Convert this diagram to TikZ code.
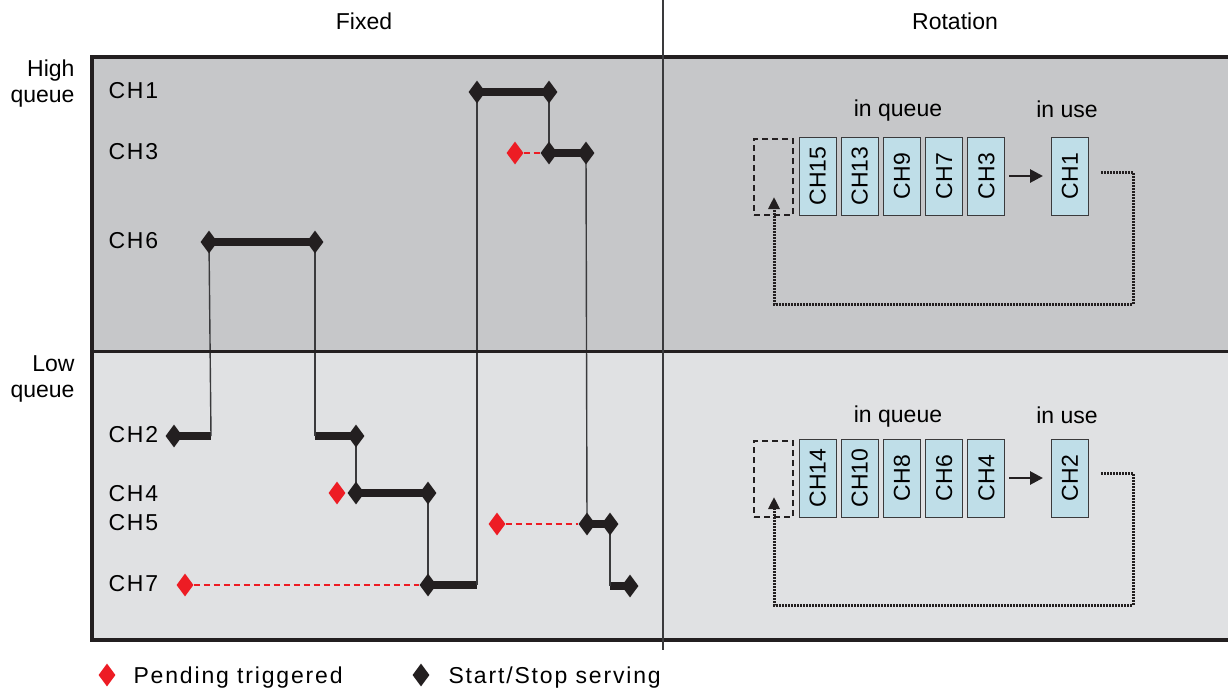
\documentclass[tikz,border=0pt]{standalone}
\usepackage{fontspec}
\setmainfont{Liberation Sans}
\newfontfamily\trackfont[LetterSpace=8]{Liberation Sans}
\usetikzlibrary{arrows.meta,positioning,shapes.geometric,backgrounds}
\definecolor{hiqgray}{HTML}{C6C7C9}
\definecolor{loqgray}{HTML}{E0E1E3}
\definecolor{slotblue}{HTML}{BFDEE8}
\definecolor{pendred}{HTML}{ED1C24}
\definecolor{servblack}{HTML}{231F20}
\definecolor{wire}{HTML}{3A3A3C}

\begin{document}
\begin{tikzpicture}[x=1pt, y=-1pt,
  font=\fontsize{23}{26}\selectfont,
  chan/.style={anchor=west, font=\fontsize{23}{26}\trackfont},
  serve/.style={diamond, fill=servblack, inner sep=0pt, minimum width=17pt, minimum height=23pt},
  pend/.style={serve, fill=pendred},
  servbar/.style={line width=8.5pt, servblack},
  link/.style={line width=1.4pt, wire},
  pendline/.style={line width=2.2pt, pendred, dash pattern=on 6pt off 4pt},
  slot/.style={draw=wire, line width=1pt, fill=slotblue, minimum width=37pt, minimum height=78pt, inner sep=0pt},
  spare/.style={draw=servblack, line width=1.6pt, dash pattern=on 6pt off 4pt, minimum width=39pt, minimum height=76pt},
  handoff/.style={line width=2.8pt, servblack, -{Triangle[length=13pt,width=13pt]}, shorten <=4pt, shorten >=8pt},
  recycle/.style={line width=3pt, servblack, dash pattern=on 2pt off 1pt, -{Triangle[length=12pt,width=11pt]}}
]
  \useasboundingbox (0,0) rectangle (1228,689);
  \begin{scope}[on background layer]
    \fill[hiqgray] (92,57) rectangle (1228,351);
    \fill[loqgray] (92,351) rectangle (1228,640);
  \end{scope}
  \draw[line width=4pt, servblack] (1228,57) -| (92,640) -- (1228,640);
  \draw[line width=3pt, servblack] (92,351) -- (1228,351);
  \draw[line width=1.3pt, wire] (663,0) -- (663,650);

  \node (fixed) at (364,21) {Fixed};
  \node (rot) at (955,21) {Rotation};
  \node[align=right, anchor=base east] (hiq) at (78,102) {High\\queue};
  \node[align=right, anchor=base east] (loq) at (78,397) {Low\\queue};

  \node[chan] (ch1) at (105,91) {CH1};
  \node[chan] (ch3) at (105,152) {CH3};
  \node[chan] (ch6) at (105,241) {CH6};
  \node[chan] (ch2) at (105,435) {CH2};
  \node[chan] (ch4) at (105,494) {CH4};
  \node[chan] (ch5) at (105,523) {CH5};
  \node[chan] (ch7) at (105,584) {CH7};

  % timeline
  \node[serve] (s1a) at (477,92) {};
  \node[serve] (s1b) at (549,92) {};
  \node[pend] (p3) at (515,153) {};
  \node[serve] (s3a) at (549,153) {};
  \node[serve] (s3b) at (586,153) {};
  \node[serve] (s6a) at (209,242) {};
  \node[serve] (s6b) at (315,242) {};
  \node[serve] (s2a) at (174,436) {};
  \node[serve] (s2b) at (356,436) {};
  \node[pend] (p4) at (337,493) {};
  \node[serve] (s4a) at (356,493) {};
  \node[serve] (s4b) at (428,493) {};
  \node[pend] (p5) at (497,524) {};
  \node[serve] (s5a) at (587,524) {};
  \node[serve] (s5b) at (610,524) {};
  \node[serve] (s5c) at (630,586) {};
  \node[pend] (p7) at (185,585) {};
  \node[serve] (s7a) at (428,585) {};
  \coordinate (k2a) at (211,436);
  \coordinate (k2b) at (315,436);
  \coordinate (k7) at (477,585);
  \coordinate (k5) at (610,586);

  \begin{scope}[on background layer]
    \draw[servbar] (s1a.center) -- (s1b.center);
    \draw[servbar] (s3a.center) -- (s3b.center);
    \draw[servbar] (s6a.center) -- (s6b.center);
    \draw[servbar] (s2a.center) -- (k2a);
    \draw[servbar] (k2b) -- (s2b.center);
    \draw[servbar] (s4a.center) -- (s4b.center);
    \draw[servbar] (s5a.center) -- (s5b.center);
    \draw[servbar] (k5) -- (s5c.center);
    \draw[servbar] (s7a.center) -- (k7);
    \draw[pendline] (p3) -- (s3a);
    \draw[pendline] (p5) -- (s5a);
    \draw[pendline] (p7) -- (s7a);
    \draw[link] (s1b.center) -- (s3a.center);
    \draw[link] (s1a.center) -- (k7);
    \draw[link] (s3b.center) -- (s5a.center);
    \draw[link] (s6a.center) -- (k2a);
    \draw[link] (s6b.center) -- (k2b);
    \draw[link] (s2b.center) -- (s4a.center);
    \draw[link] (s4b.center) -- (s7a.center);
    \draw[link] (s5b.center) -- (k5);
  \end{scope}

  % rotation, high queue
  \node[anchor=base] (hin) at (898,116) {in queue};
  \node[anchor=base] (huse) at (1067,117) {in use};
  \node[spare] (hsp) at (773.5,177) {};
  \foreach \c [count=\i] in {15,13,9,7,3}
    \node[slot] (hq\i) at ({775.4+42.2*\i},176) {\rotatebox{90}{CH\c}};
  \node[slot] (hu) at (1070,176) {\rotatebox{90}{CH1}};
  \draw[handoff] (hq5) -- (hu);
  \coordinate (hr1) at (1101,172);
  \coordinate (hr2) at (1133,304);
  \coordinate (hr3) at (774,197);
  \draw[recycle] (hr1) -| (hr2) -| (hr3);

  % rotation, low queue
  \node[anchor=base] (lin) at (898,422) {in queue};
  \node[anchor=base] (luse) at (1067,423) {in use};
  \node[spare] (lsp) at (773.5,479) {};
  \foreach \c [count=\i] in {14,10,8,6,4}
    \node[slot] (lq\i) at ({775.4+42.2*\i},478) {\rotatebox{90}{CH\c}};
  \node[slot] (lu) at (1070,478) {\rotatebox{90}{CH2}};
  \draw[handoff] (lq5) -- (lu);
  \coordinate (lr1) at (1101,473);
  \coordinate (lr2) at (1133,605);
  \coordinate (lr3) at (774,497);
  \draw[recycle] (lr1) -| (lr2) -| (lr3);

  % legend
  \node[pend] (lgp) at (107,675) {};
  \node[chan, anchor=base west] (lgpt) at (130,683) {Pending triggered};
  \node[serve] (lgs) at (421,675) {};
  \node[chan, anchor=base west] (lgst) at (445,683) {Start/Stop serving};
\end{tikzpicture}
\end{document}
